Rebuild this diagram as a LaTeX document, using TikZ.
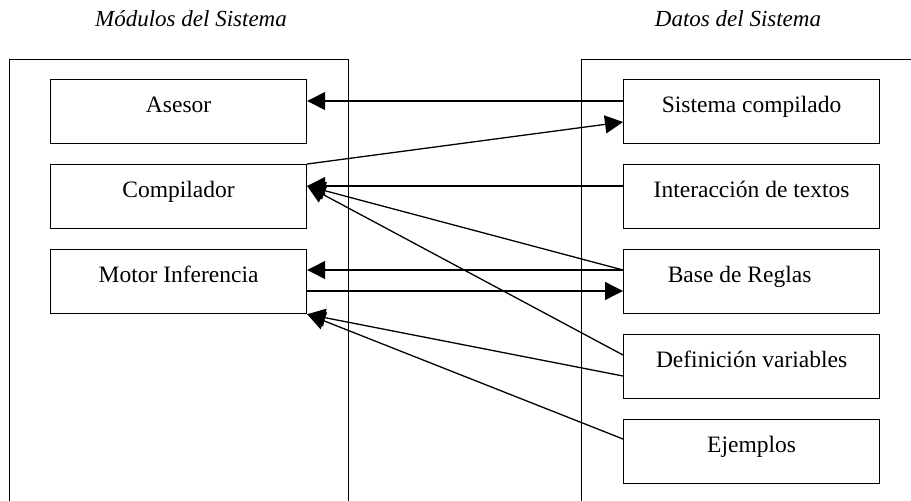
\documentclass[tikz,border=0pt]{standalone}
\usepackage{fontspec}
\setmainfont{Liberation Serif}
\usetikzlibrary{arrows.meta}
\begin{document}
\begin{tikzpicture}[x=1pt,y=-1pt,
  frame/.style={draw, line width=1.4pt, inner sep=0pt, anchor=north west},
  modbox/.style={draw, line width=1.2pt, inner sep=0pt, minimum width=256pt,
    text height=33pt, text depth=31pt, anchor=north west,
    font=\fontsize{23.5}{28}\selectfont},
  title/.style={anchor=base, font=\fontsize{23}{28}\selectfont\itshape},
  link/.style={line width=1.3pt, -{Triangle[length=18pt,width=18pt]}}
]
\useasboundingbox (0,0) rectangle (911,501);
\clip (0,0) rectangle (911,501);

% column headings
\node[title] (tmod) at (191,26) {Módulos del Sistema};
\node[title] (tdat) at (738,26) {Datos del Sistema};

% the two enclosing frames (open at the bottom / right edge of the page)
\node[frame, minimum width=339pt, minimum height=470pt] (modulos) at (9,59) {};
\node[frame, minimum width=360pt, minimum height=470pt] (datos) at (581,59) {};

% system modules
\node[modbox] (asesor) at (50,79)  {Asesor};
\node[modbox] (comp)   at (50,164) {Compilador};
\node[modbox] (motor)  at (50,249) {Motor Inferencia};

% system data
\node[modbox] (sc)    at (623,79)  {Sistema compilado};
\node[modbox] (inter) at (623,164) {Interacción de textos};
\node[modbox] (base)  at (623,249) {Base de Reglas\hspace*{24pt}};
\node[modbox] (defv)  at (623,334) {Definición variables};
\node[modbox] (ejem)  at (623,419) {Ejemplos};

% data flows
\draw[link] ([yshift=-22pt]sc.north west) -- ([yshift=-22pt]asesor.north east);
\draw[link] (comp.north east) -- ([yshift=-43pt]sc.north west);
\draw[link] ([yshift=-22pt]inter.north west) -- ([yshift=-22pt]comp.north east);
\draw[link] ([yshift=-21pt]base.north west) -- ([yshift=-22pt]comp.north east);
\draw[link] ([yshift=-21pt]defv.north west) -- ([yshift=-22pt]comp.north east);
\draw[link] ([yshift=-21pt]base.north west) -- ([yshift=-21pt]motor.north east);
\draw[link] ([yshift=-42pt]motor.north east) -- ([yshift=-42pt]base.north west);
\draw[link] ([yshift=-42pt]defv.north west) -- (motor.south east);
\draw[link] ([yshift=-20pt]ejem.north west) -- (motor.south east);
\end{tikzpicture}
\end{document}
